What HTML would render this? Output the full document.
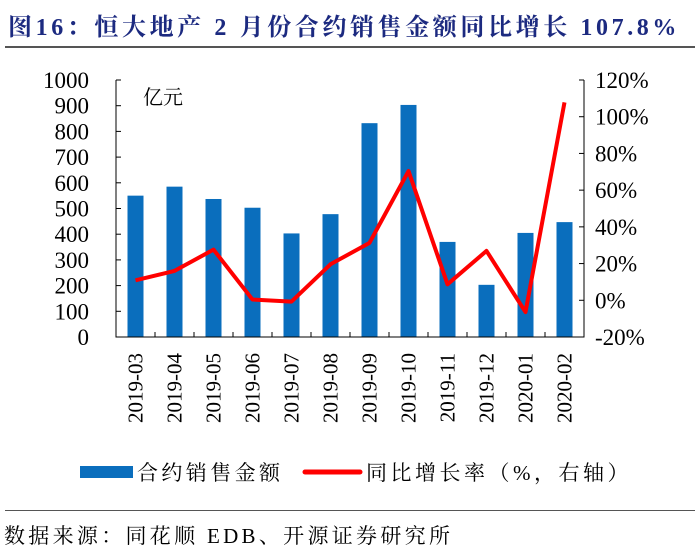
<!DOCTYPE html>
<html><head><meta charset="utf-8"><style>
body{margin:0;background:#fff;width:700px;height:556px;overflow:hidden;font-family:"Liberation Serif","Noto Serif CJK SC",serif}
#title{position:absolute;left:8px;top:7px;font-size:24px;letter-spacing:3.6px;font-weight:bold;color:#1c2a80;white-space:nowrap}
.rule{position:absolute;left:5px;width:690px;height:2px;background:#555}
#src{position:absolute;left:4px;top:520px;font-size:21px;letter-spacing:3.3px;color:#000;white-space:nowrap}
</style></head><body>
<div id="title">图16：恒大地产 2 月份合约销售金额同比增长 107.8%</div>
<div class="rule" style="top:46px"></div>
<svg id="chart" width="700" height="556" style="position:absolute;left:0;top:0"></svg>
<div class="rule" style="top:510px;height:1px"></div>
<div id="src">数据来源：同花顺 EDB、开源证券研究所</div>
<script>
const categories=["2019-03","2019-04","2019-05","2019-06","2019-07","2019-08","2019-09","2019-10","2019-11","2019-12","2020-01","2020-02"];
const salesValues=[550,585,537,503,403,478,832,903,370,203,405,447];
const yoyValues=[10.9,16,27.6,0.4,-0.7,19.6,31.3,70.4,8.7,26.9,-6.4,107.8];
const leftTicks=[0,100,200,300,400,500,600,700,800,900,1000];
const rightTicks=[-20,0,20,40,60,80,100,120];

const NS="http://www.w3.org/2000/svg";
const svg=document.getElementById('chart');
const X0=116,X1=584,Y0=337,Y1=80;
const bw=(X1-X0)/categories.length;
const xc=i=>X0+bw*(i+0.5);
const yl=v=>Y0-(v-0)/(1000-0)*(Y0-Y1);
const yr=v=>Y0-(v+20)/(140)*(Y0-Y1);
function mk(t,a,txt){const e=document.createElementNS(NS,t);for(const k in a)e.setAttribute(k,a[k]);if(txt!==undefined)e.textContent=txt;svg.appendChild(e);return e;}
const F='"Liberation Serif","Noto Serif CJK SC",serif';

salesValues.forEach((v,i)=>{
 const r=mk('rect',{x:xc(i)-8,y:yl(v),width:16,height:Y0-yl(v),fill:'#0a6ebd'});
 
 
});
const ax=mk('path',{d:`M${X0},${Y1}V${Y0}H${X1}V${Y1}`,fill:'none',stroke:'#000','stroke-width':1});


leftTicks.forEach(t=>{
 mk('line',{x1:X0,x2:X0+5,y1:yl(t),y2:yl(t),stroke:'#000'});
 const e=mk('text',{x:89,y:yl(t)+8,'text-anchor':'end','font-size':23,'font-family':F},t);
 
 
});
rightTicks.forEach(t=>{
 mk('line',{x1:X1-5,x2:X1,y1:yr(t),y2:yr(t),stroke:'#000'});
 const e=mk('text',{x:X1+11,y:yr(t)+8,'font-size':23,'font-family':F},t+'%');
 
 
});
categories.forEach((c,i)=>{
 if(i>0)mk('line',{x1:X0+bw*i,x2:X0+bw*i,y1:Y0,y2:Y0-5,stroke:'#000'});
 const e=mk('text',{x:0,y:0,'text-anchor':'end','font-size':21,'font-family':F,transform:`translate(${xc(i)+7},353) rotate(-90)`},c);
 
 
});
const unit=mk('text',{x:143,y:104,'font-size':20,'font-family':F},'亿元');


const line=mk('polyline',{points:yoyValues.map((v,i)=>xc(i)+','+yr(v)).join(' '),fill:'none',stroke:'#ff0000','stroke-width':4,'stroke-linejoin':'round'});


// legend
const lb=mk('rect',{x:80,y:466,width:53,height:12,fill:'#0a6ebd'});


const lt=mk('text',{x:137,y:480,'font-size':21,'letter-spacing':3.4,'font-family':F},'合约销售金额');


const lr=mk('line',{x1:305,x2:360,y1:472,y2:472,stroke:'#ff0000','stroke-width':5,'stroke-linecap':'round'});


const lt2=mk('text',{x:366,y:480,'font-size':21,'letter-spacing':3.5,'font-family':F},'同比增长率（%，右轴）');


</script>
</body></html>
